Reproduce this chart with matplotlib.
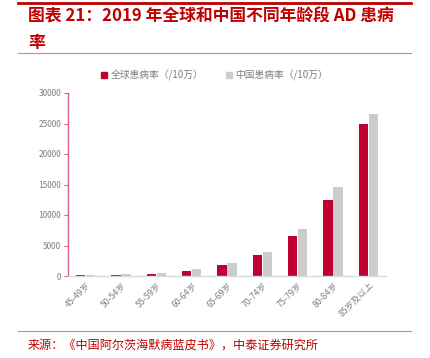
import matplotlib
matplotlib.use("Agg")
import matplotlib.pyplot as plt
import numpy as np
from matplotlib.lines import Line2D

plt.rcParams['font.family'] = ['Noto Sans CJK SC', 'DejaVu Sans']

categories = ["45-49岁", "50-54岁", "55-59岁", "60-64岁", "65-69岁",
              "70-74岁", "75-79岁", "80-84岁", "85岁及以上"]
global_rate = [100, 200, 400, 820, 1800, 3450, 6550, 12500, 25000]
china_rate = [120, 250, 500, 1150, 2100, 3950, 7700, 14600, 26500]
series_names = ["全球患病率（/10万）", "中国患病率（/10万）"]
yticks = [0, 5000, 10000, 15000, 20000, 25000, 30000]

red = "#C00030"
gray = "#CCCCCC"
txt_gray = "#7F7F7F"

fig = plt.figure(figsize=(4.31, 3.58), dpi=100)
W, H = 431, 358

ax = fig.add_axes([68 / W, 1 - 276 / H, (386 - 68) / W, (276 - 93) / H])
x = np.arange(len(categories))
bw = 0.26
ax.bar(x - bw / 2 - 0.01, global_rate, width=bw, color=red, label=series_names[0])
ax.bar(x + bw / 2 + 0.01, china_rate, width=bw, color=gray, label=series_names[1])
ax.set_xlim(-0.5, len(categories) - 0.5)
ax.set_ylim(0, 30000)
ax.set_yticks(yticks)
ax.set_yticklabels([str(v) for v in yticks], fontsize=6, color=txt_gray)
ax.set_xticks(x)
ax.set_xticklabels(categories, rotation=45, ha="right", rotation_mode="anchor",
                   fontsize=6.3, color=txt_gray)
for s in ["top", "right"]:
    ax.spines[s].set_visible(False)
ax.spines["left"].set_color("#E06080")
ax.spines["left"].set_linewidth(1.0)
ax.spines["bottom"].set_color("#D9D9D9")
ax.spines["bottom"].set_linewidth(1.0)
ax.tick_params(axis="y", length=3, color="#E06080", pad=2)
ax.tick_params(axis="x", length=0, pad=3)

leg = fig.legend(handles=[Line2D([], [], marker="s", ls="", color=red, markersize=4),
                          Line2D([], [], marker="s", ls="", color=gray, markersize=4)],
                 labels=series_names, loc="center", bbox_to_anchor=(214 / W, 1 - 75 / H),
                 ncol=2, frameon=False, fontsize=7.0, handletextpad=0.3,
                 columnspacing=2.2, handlelength=0.8)
for t in leg.get_texts():
    t.set_color(txt_gray)

# decorations
fig.add_artist(Line2D([18 / W, 411 / W], [1 - 3 / H, 1 - 3 / H], color="#C00000", lw=2))
fig.add_artist(Line2D([18 / W, 411 / W], [1 - 53 / H, 1 - 53 / H], color="#E88080", lw=0.8))
fig.add_artist(Line2D([18 / W, 411 / W], [1 - 331 / H, 1 - 331 / H], color="#E88080", lw=0.8))

fig.text(28 / W, 1 - 16 / H, "图表 21：2019 年全球和中国不同年龄段 AD 患病",
         fontsize=12.1, fontweight="bold", color="#C00000", va="center", ha="left")
fig.text(28 / W, 1 - 43 / H, "率", fontsize=12.1, fontweight="bold",
         color="#C00000", va="center", ha="left")
fig.text(28 / W, 1 - 345 / H, "来源：《中国阿尔茨海默病蓝皮书》，中泰证券研究所",
         fontsize=8.7, color="#C00000", va="center", ha="left")

fig.savefig("out.png", dpi=100)
